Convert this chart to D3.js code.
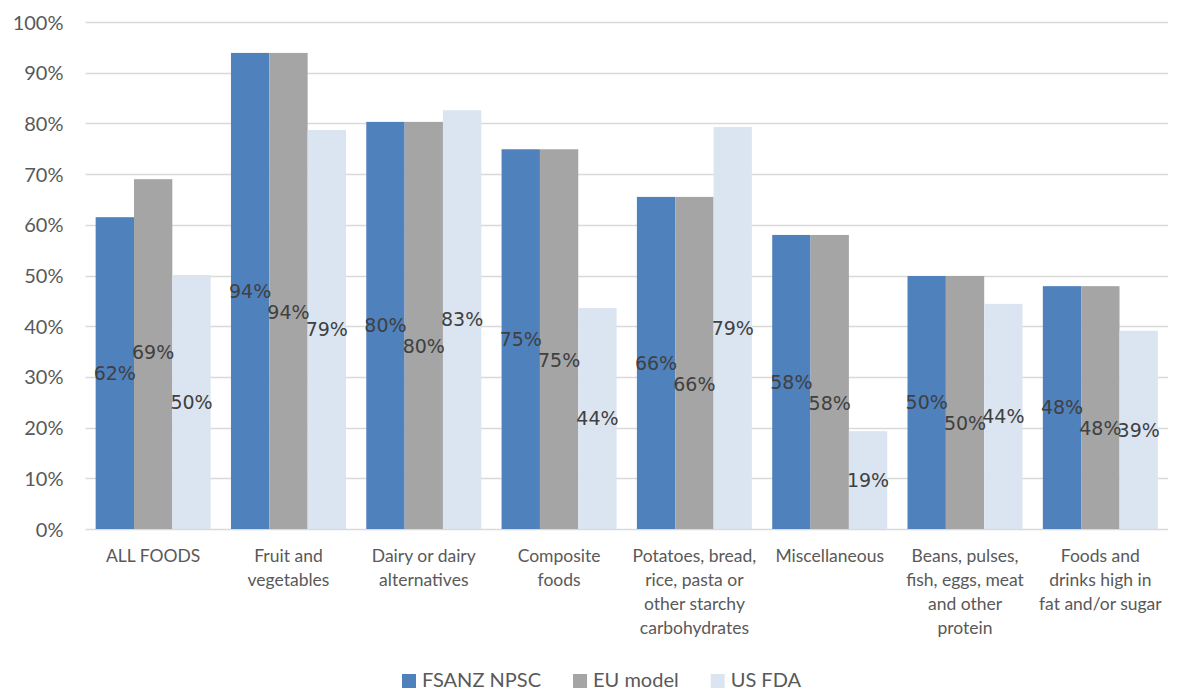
<!DOCTYPE html>
<html><head><meta charset="utf-8">
<script src="https://cdnjs.cloudflare.com/ajax/libs/d3/7.8.5/d3.min.js"></script>
<style>body{margin:0;background:#fff}svg{display:block}</style>
</head><body><svg id="chart" width="1178" height="691"></svg>
<script>
const categories = ["ALL FOODS","Fruit and\nvegetables","Dairy or dairy\nalternatives","Composite\nfoods","Potatoes, bread,\nrice, pasta or\nother starchy\ncarbohydrates","Miscellaneous","Beans, pulses,\nfish, eggs, meat\nand other\nprotein","Foods and\ndrinks high in\nfat and/or sugar"];
const seriesNames = ["FSANZ NPSC","EU model","US FDA"];
const fsanz = [0.615,0.939,0.803,0.749,0.655,0.580,0.499,0.479];
const eu    = [0.690,0.939,0.803,0.749,0.655,0.580,0.499,0.479];
const usfda = [0.501,0.787,0.826,0.436,0.793,0.193,0.444,0.391];
const yTicks = [0,0.1,0.2,0.3,0.4,0.5,0.6,0.7,0.8,0.9,1.0];
const colors = ["#4F81BD","#A5A5A5","#DBE5F1"];

const series = [fsanz, eu, usfda];
const svg = d3.select("#chart");
const m = {left:85.5, right:1168, top:22, bottom:529};

const x = d3.scaleBand().domain(categories).range([m.left,m.right]).paddingInner(0.15).paddingOuter(0.075);
const xs = d3.scaleBand().domain(seriesNames).range([0,x.bandwidth()]);
const y = d3.scaleLinear().domain([0,1]).range([m.bottom,m.top]);

// gridlines
svg.append("g").selectAll("line").data(yTicks).join("line")
  .attr("x1",m.left).attr("x2",m.right)
  .attr("y1",d=>Math.round(y(d))+0.5).attr("y2",d=>Math.round(y(d))+0.5)
  .attr("stroke","#D9D9D9").attr("stroke-width",1.3);

// y axis labels
const yAxis = d3.axisLeft(y).tickValues(yTicks).tickFormat(d3.format(".0%")).tickSize(0).tickPadding(0);
const yg = svg.append("g").attr("transform",`translate(${m.left-22},0)`).call(yAxis);
yg.select(".domain").remove();
yg.selectAll("text").attr("font-family","Lato, 'Open Sans', sans-serif").attr("font-size",20).attr("fill","#595959").attr("dy","0.35em");

// bars
const groups = svg.append("g").selectAll("g").data(categories).join("g")
  .attr("transform",d=>`translate(${x(d)},0)`);
groups.selectAll("rect").data((c,i)=>series.map((s,j)=>({name:seriesNames[j],v:s[i],j}))).join("rect")
  .attr("x",d=>xs(d.name)).attr("width",xs.bandwidth())
  .attr("y",d=>y(d.v)).attr("height",d=>y(0)-y(d.v))
  .attr("fill",d=>colors[d.j]);

// data labels (centered, simple collision avoidance between first two series)
const fmt = d3.format(".0%");
const lblH = 21;
categories.forEach((c,i)=>{
  const ys = series.map(s=>(y(s[i])+y(0))/2);
  const d = ys[1]-ys[0];
  if (Math.abs(d) < lblH) ys[1] = d < 0 ? ys[0]-lblH : ys[0]+lblH;
  series.forEach((s,j)=>{
    svg.append("text")
      .attr("x", x(c)+xs(seriesNames[j])+xs.bandwidth()/2)
      .attr("y", ys[j]).attr("dy","0.35em")
      .attr("text-anchor","middle")
      .attr("font-family","'DejaVu Sans', sans-serif").attr("font-size",19)
      .attr("fill","#404040").text(fmt(s[i]));
  });
});

// x labels (explicit line breaks)
svg.append("g").selectAll("text").data(categories).join("text")
  .attr("x",d=>x(d)+x.bandwidth()/2).attr("y",562)
  .attr("text-anchor","middle")
  .attr("font-family","Lato, 'Open Sans', sans-serif").attr("font-size",17.5)
  .attr("fill","#595959")
  .each(function(d){
    const t = d3.select(this);
    d.split("\n").forEach((l,k)=>t.append("tspan").attr("x",t.attr("x")).attr("dy",k===0?0:24).text(l));
  });

// legend
const leg = svg.append("g");
let lx = 0;
const items = leg.selectAll("g").data(seriesNames).join("g");
items.append("rect").attr("width",14).attr("height",14).attr("y",-13).attr("fill",(d,i)=>colors[i]);
items.append("text").attr("x",20).attr("y",0).attr("font-family","Lato, 'Open Sans', sans-serif")
  .attr("font-size",20).attr("fill","#595959").text(d=>d);
items.each(function(){
  const g = d3.select(this);
  g.attr("transform",`translate(${lx},0)`);
  lx += this.getBBox().width + 32;
});
const totalW = lx - 32;
leg.attr("transform",`translate(${(m.left+m.right)/2 - totalW/2 - 25},687)`);
</script></body></html>
